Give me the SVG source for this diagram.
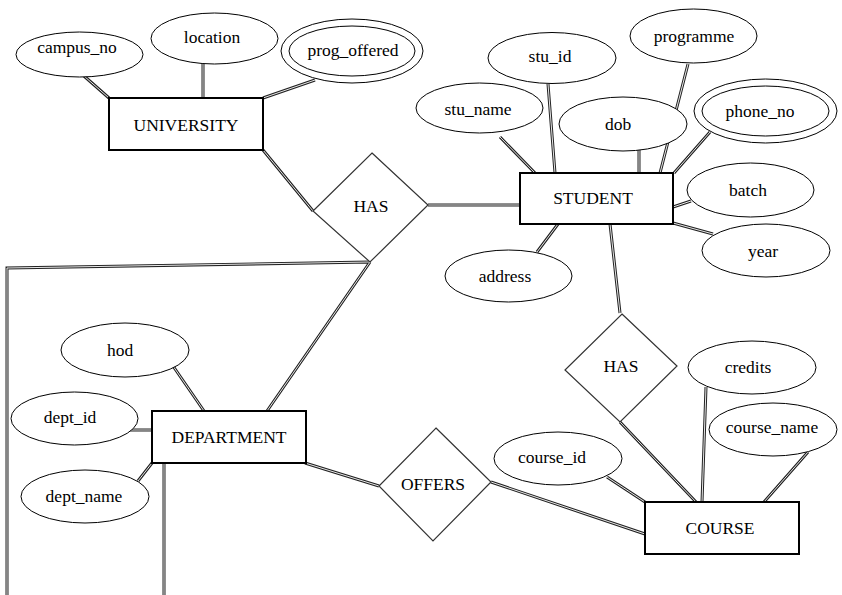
<svg xmlns="http://www.w3.org/2000/svg" width="842" height="595" viewBox="0 0 842 595">
<style>
text{font-family:'Liberation Serif','Times New Roman',serif;font-size:17.5px;fill:#000;text-anchor:middle}
.ent{fill:#fff;stroke:#000;stroke-width:2}
.att{fill:#fff;stroke:#000;stroke-width:1}
.rel{fill:#fff;stroke:#333;stroke-width:1.2}
.o{fill:none;stroke:#222;stroke-width:3}
.i{fill:none;stroke:#e8e8e8;stroke-width:1}
</style>
<rect width="842" height="595" fill="#fff"/>
<defs>
<g id="c">
<path d="M84 76L109 98M203 64L203 98M315 80L263 98M263 150L313 211M428 205L520 205M370 262L7 268L7 595M370 262L267 411M500 137L535 173M548 84L555 173M639 150L639 173M688 64L660 173M710 132L674 173M691 201L673 207M713 234L673 223M537 252L558 224M610 224L620 313M620 422L697 503M706 387L702 502M808 452L764 502M607 477L645 502M491 482L645 534M305 463L379 486M173 366L204 411M130 430L152 430M138 481L152 463M164 463L164 595"/>
</g>
</defs>
<g id="connectors">
<use href="#c" class="o"/>
<use href="#c" class="i"/>
</g>
<g id="university"><rect class="ent" x="109" y="98" width="154" height="52"/><text x="186" y="131">UNIVERSITY</text></g>
<g id="campus_no"><ellipse class="att" cx="79.5" cy="54.5" rx="63.5" ry="22.5"/><text x="77" y="53">campus_no</text></g>
<g id="location"><ellipse class="att" cx="214.5" cy="38.5" rx="63.5" ry="25.5"/><text x="212" y="43">location</text></g>
<g id="prog_offered"><ellipse class="att" cx="352" cy="51" rx="71" ry="32"/><ellipse class="att" cx="352" cy="51" rx="63" ry="25"/><text x="353" y="56">prog_offered</text></g>
<g id="has1"><polygon class="rel" points="372,153 428,205 370,262 313,211"/><text x="371" y="212">HAS</text></g>
<g id="student"><rect class="ent" x="520" y="173" width="153" height="51"/><text x="593" y="204">STUDENT</text></g>
<g id="stu_id"><ellipse class="att" cx="552" cy="58" rx="64" ry="25.5"/><text x="550" y="62">stu_id</text></g>
<g id="programme"><ellipse class="att" cx="693.5" cy="36" rx="63.5" ry="27"/><text x="694" y="42">programme</text></g>
<g id="stu_name"><ellipse class="att" cx="479.5" cy="108" rx="63.5" ry="25"/><text x="478" y="115">stu_name</text></g>
<g id="dob"><ellipse class="att" cx="623" cy="124" rx="64" ry="27"/><text x="618" y="130">dob</text></g>
<g id="phone_no"><ellipse class="att" cx="765.5" cy="111" rx="71.5" ry="32"/><ellipse class="att" cx="765.5" cy="111" rx="63.5" ry="25"/><text x="760" y="117">phone_no</text></g>
<g id="batch"><ellipse class="att" cx="750.5" cy="190" rx="63.5" ry="27"/><text x="748" y="196">batch</text></g>
<g id="year"><ellipse class="att" cx="766" cy="250.5" rx="64" ry="26.5"/><text x="763" y="257">year</text></g>
<g id="address"><ellipse class="att" cx="508.5" cy="276" rx="63.5" ry="26"/><text x="505" y="282">address</text></g>
<g id="has2"><polygon class="rel" points="622,314 677,366 620,422 565,370"/><text x="621" y="372">HAS</text></g>
<g id="course"><rect class="ent" x="645" y="502" width="154" height="52"/><text x="720" y="534">COURSE</text></g>
<g id="credits"><ellipse class="att" cx="752" cy="367.5" rx="64" ry="26.5"/><text x="748" y="373">credits</text></g>
<g id="course_name"><ellipse class="att" cx="773" cy="429.5" rx="64" ry="26.5"/><text x="772" y="433">course_name</text></g>
<g id="course_id"><ellipse class="att" cx="558" cy="458.5" rx="64" ry="26.5"/><text x="552" y="463">course_id</text></g>
<g id="offers"><polygon class="rel" points="436,428 491,482 433,541 379,486"/><text x="433" y="490">OFFERS</text></g>
<g id="department"><rect class="ent" x="152" y="411" width="154" height="52"/><text x="229" y="443">DEPARTMENT</text></g>
<g id="hod"><ellipse class="att" cx="125" cy="350" rx="64" ry="27"/><text x="120" y="356">hod</text></g>
<g id="dept_id"><ellipse class="att" cx="74.5" cy="418.5" rx="63.5" ry="26.5"/><text x="70" y="423">dept_id</text></g>
<g id="dept_name"><ellipse class="att" cx="85" cy="496.5" rx="64" ry="26.5"/><text x="84" y="502">dept_name</text></g>
</svg>
